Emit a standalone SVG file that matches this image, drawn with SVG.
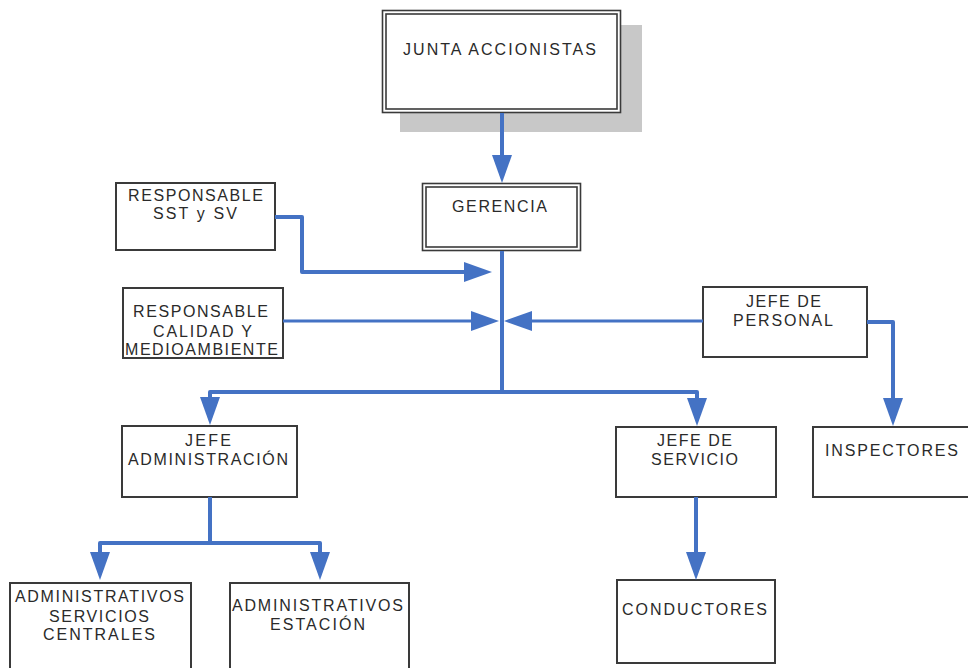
<svg xmlns="http://www.w3.org/2000/svg" width="968" height="668" viewBox="0 0 968 668">
<style>
.t{font-family:"Liberation Sans",Arial,sans-serif;font-size:16px;fill:#2a2a2a;}
.box{fill:#fff;stroke:#3a3a3a;stroke-width:2;}
.dbl{fill:none;stroke:#3a3a3a;stroke-width:1.6;}
.c{fill:none;stroke:#4472c4;stroke-width:4;stroke-linejoin:round;}
.cs{fill:none;stroke:#4472c4;stroke-width:3;}
</style>
<defs>
<marker id="ah" markerUnits="userSpaceOnUse" markerWidth="30" markerHeight="22" refX="2" refY="10" orient="auto" viewBox="0 0 30 22">
<path d="M0,0 L28,10 L0,20 z" fill="#4472c4"/>
</marker>
</defs>
<rect width="968" height="668" fill="#fff"/>
<g id="junta">
<rect x="400" y="25" width="242" height="107" fill="#c8c8c8"/>
<rect x="382.5" y="10.5" width="238" height="102" fill="#fff" stroke="#3a3a3a" stroke-width="1.6"/>
<rect x="386" y="14" width="231" height="95" class="dbl"/>
<text class="t" x="403" y="55" textLength="193" lengthAdjust="spacing">JUNTA ACCIONISTAS</text>
</g>
<g id="gerencia">
<rect x="422.5" y="183.5" width="158" height="67" fill="#fff" stroke="#3a3a3a" stroke-width="1.6"/>
<rect x="426" y="187" width="151" height="60" class="dbl"/>
<text class="t" x="452" y="212" textLength="95" lengthAdjust="spacing">GERENCIA</text>
</g>
<g id="sst">
<rect x="116" y="183" width="159" height="67" class="box"/>
<text class="t" x="128" y="201" textLength="135" lengthAdjust="spacing">RESPONSABLE</text>
<text class="t" x="153" y="219" textLength="84" lengthAdjust="spacing">SST y SV</text>
</g>
<g id="calidad">
<rect x="123" y="288" width="160" height="70" class="box" stroke="#555" stroke-width="2.5"/>
<text class="t" x="133" y="317" textLength="135" lengthAdjust="spacing">RESPONSABLE</text>
<text class="t" x="153" y="337" textLength="99" lengthAdjust="spacing">CALIDAD Y</text>
<text class="t" x="125" y="355" textLength="153" lengthAdjust="spacing">MEDIOAMBIENTE</text>
</g>
<g id="personal">
<rect x="703" y="287" width="164" height="70" class="box"/>
<text class="t" x="746" y="307" textLength="75" lengthAdjust="spacing">JEFE DE</text>
<text class="t" x="733" y="326" textLength="100" lengthAdjust="spacing">PERSONAL</text>
</g>
<g id="jefe-admin">
<rect x="122" y="426" width="175" height="71" class="box"/>
<text class="t" x="185" y="446" textLength="46" lengthAdjust="spacing">JEFE</text>
<text class="t" x="128" y="465" textLength="160" lengthAdjust="spacing">ADMINISTRACIÓN</text>
</g>
<g id="jefe-servicio">
<rect x="616" y="427" width="160" height="70" class="box"/>
<text class="t" x="657" y="446" textLength="75" lengthAdjust="spacing">JEFE DE</text>
<text class="t" x="651" y="465" textLength="87" lengthAdjust="spacing">SERVICIO</text>
</g>
<g id="inspectores">
<rect x="813" y="427" width="160" height="70" class="box"/>
<text class="t" x="825" y="456" textLength="133" lengthAdjust="spacing">INSPECTORES</text>
</g>
<g id="adm-centrales">
<rect x="10" y="583" width="181" height="100" class="box"/>
<text class="t" x="15" y="602" textLength="169" lengthAdjust="spacing">ADMINISTRATIVOS</text>
<text class="t" x="49" y="622" textLength="100" lengthAdjust="spacing">SERVICIOS</text>
<text class="t" x="43" y="640" textLength="112" lengthAdjust="spacing">CENTRALES</text>
</g>
<g id="adm-estacion">
<rect x="230" y="583" width="179" height="100" class="box"/>
<text class="t" x="232" y="611" textLength="171" lengthAdjust="spacing">ADMINISTRATIVOS</text>
<text class="t" x="270" y="630" textLength="95" lengthAdjust="spacing">ESTACIÓN</text>
</g>
<g id="conductores">
<rect x="617" y="580" width="158" height="83" class="box"/>
<text class="t" x="622" y="615" textLength="145" lengthAdjust="spacing">CONDUCTORES</text>
</g>
<g id="connectors">
<path class="c" d="M502,113 V157" marker-end="url(#ah)"/>
<path class="c" d="M275,217 H302 V272 H466" marker-end="url(#ah)"/>
<path class="cs" d="M283,321 H473" marker-end="url(#ah)"/>
<path class="cs" d="M703,321 H530" marker-end="url(#ah)"/>
<path class="c" d="M867,322 H893 V400" marker-end="url(#ah)"/>
<path class="c" d="M502,251 V392"/>
<path class="c" d="M502,392 H210 V399" marker-end="url(#ah)"/>
<path class="c" d="M502,392 H697 V400" marker-end="url(#ah)"/>
<path class="c" d="M210,497 V543 H100 V554" marker-end="url(#ah)"/>
<path class="c" d="M210,543 H320 V554" marker-end="url(#ah)"/>
<path class="c" d="M696,497 V554" marker-end="url(#ah)"/>
</g>
</svg>
